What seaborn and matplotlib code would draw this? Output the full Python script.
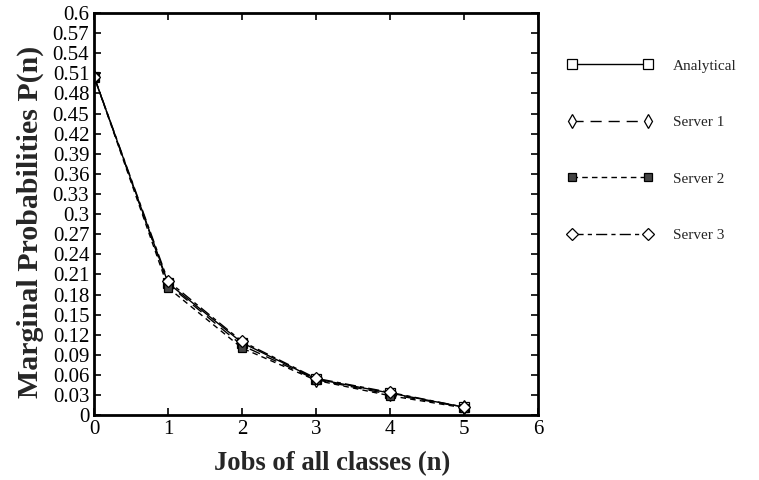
import numpy as np
import pandas as pd
import matplotlib
matplotlib.use("Agg")
import matplotlib.pyplot as plt
import seaborn as sns

# data
jobs = [0, 1, 2, 3, 4, 5]
analytical = [0.505, 0.197, 0.108, 0.054, 0.033, 0.012]
server1 = [0.505, 0.195, 0.104, 0.053, 0.031, 0.012]
server2 = [0.505, 0.190, 0.100, 0.052, 0.029, 0.011]
server3 = [0.505, 0.200, 0.110, 0.055, 0.034, 0.012]

series_names = ["Analytical", "Server 1", "Server 2", "Server 3"]
y_ticks = [round(0.03 * i, 2) for i in range(21)]
x_ticks = [0, 1, 2, 3, 4, 5, 6]

sns.set_theme(style="ticks")
plt.rcParams["font.family"] = ["Liberation Serif", "DejaVu Serif"]

fig = plt.figure(figsize=(7.59, 4.8), dpi=100)
ax = fig.add_axes([0.124, 0.135, 0.585, 0.838])

styles = {
    "Analytical": dict(marker="s", mfc="white", ms=7, dashes=None),
    "Server 1": dict(marker="d", mfc="white", ms=7, dashes=(8, 5)),
    "Server 2": dict(marker="s", mfc="#444444", ms=6, dashes=(4, 3)),
    "Server 3": dict(marker="D", mfc="white", ms=6, dashes=(8, 3, 3, 3)),
}
values = [analytical, server1, server2, server3]

for name, vals in zip(series_names, values):
    st = styles[name]
    line = sns.lineplot(x=jobs, y=vals, ax=ax, color="black", linewidth=1.0,
                        marker=st["marker"], markersize=st["ms"],
                        markerfacecolor=st["mfc"], markeredgecolor="black",
                        markeredgewidth=0.9, label=name).lines[-1]
    if st["dashes"] is not None:
        line.set_dashes(st["dashes"])

ax.set_xlim(0, 6)
ax.set_ylim(0, 0.6)
ax.set_xticks(x_ticks)
ax.set_yticks(y_ticks)
ax.set_yticklabels([("%g" % t) for t in y_ticks])
ax.tick_params(direction="in", length=5, width=1.2, labelsize=15,
               top=True, right=True, color="black", labelcolor="black")
for sp in ax.spines.values():
    sp.set_linewidth(2)
    sp.set_color("black")

ax.set_xlabel("Jobs of all classes (n)", fontsize=19.2, fontweight="bold")
ax.set_ylabel("Marginal Probabilities P(n)", fontsize=21.5, fontweight="bold")
ax.xaxis.set_label_coords(0.536, -0.09)
ax.yaxis.set_label_coords(-0.113, 0.48)

leg = ax.legend(loc="upper left", bbox_to_anchor=(1.035, 0.92), frameon=False,
                fontsize=11, handlelength=5.6, labelspacing=2.8, handletextpad=1.3,
                numpoints=2)

fig.savefig("out.png", dpi=100)
